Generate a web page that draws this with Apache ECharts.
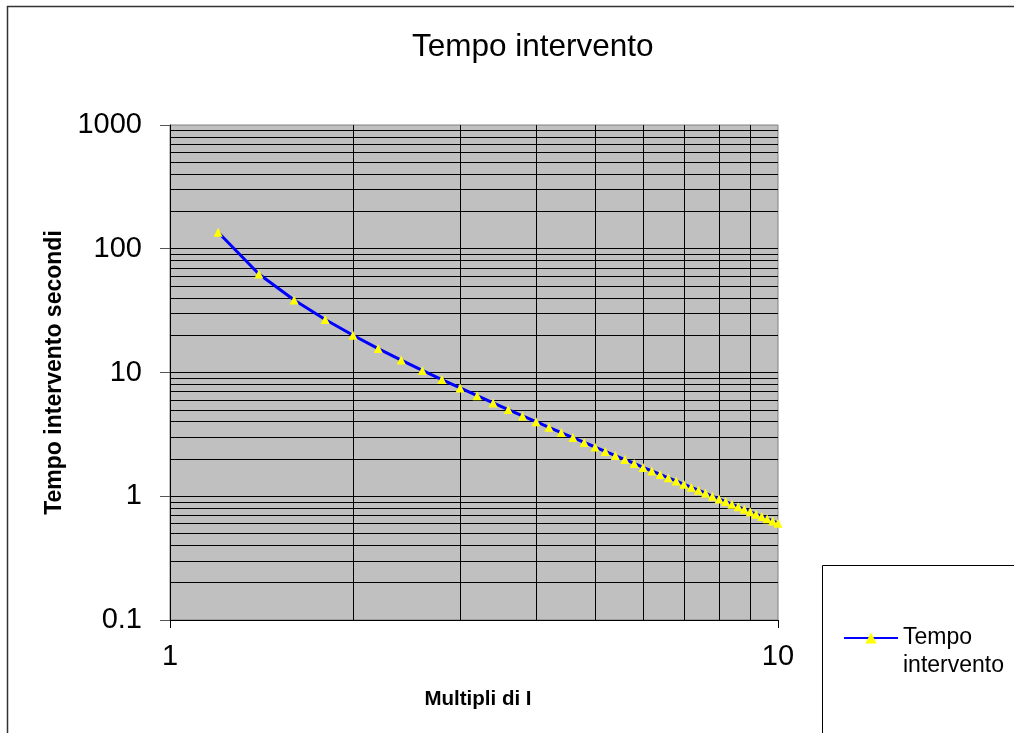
<!DOCTYPE html>
<html><head><meta charset="utf-8">
<script src="https://cdn.jsdelivr.net/npm/echarts@6/dist/echarts.min.js"></script>
<style>html,body{margin:0;padding:0;background:#fff}#c{width:1014px;height:733px}</style>
</head><body><div id="c"></div>
<script>
const titleText = 'Tempo intervento';
const seriesName = 'Tempo intervento';
const legendLabel = ' \nTempo\nintervento';
const xAxisName = 'Multipli di I';
const yAxisName = 'Tempo intervento secondi';

const multiples = [1.2,1.4,1.6,1.8,2.0,2.2,2.4,2.6,2.8,3.0,3.2,3.4,3.6,3.8,4.0,4.2,4.4,4.6,4.8,5.0,
  5.2,5.4,5.6,5.8,6.0,6.2,6.4,6.6,6.8,7.0,7.2,7.4,7.6,7.8,8.0,8.2,8.4,8.6,8.8,9.0,9.2,9.4,9.6,9.8,10.0];
const times = [136,62.5,38.5,26.8,20.0,15.6,12.6,10.4,8.77,7.50,6.49,5.68,5.02,4.46,4.00,3.61,3.27,2.98,2.72,2.50,
  2.30,2.13,1.98,1.84,1.71,1.60,1.50,1.41,1.33,1.25,1.18,1.12,1.06,1.00,0.952,0.906,0.863,0.822,0.785,0.750,
  0.717,0.687,0.658,0.631,0.606];

const xGridValues = [2,3,4,5,6,7,8,9];
const yGridValues = [0.2,0.3,0.4,0.5,0.6,0.7,0.8,0.9,1,2,3,4,5,6,7,8,9,10,20,30,40,50,60,70,80,90,100,
  200,300,400,500,600,700,800,900];

const FONT = 'Liberation Sans, Arial, sans-serif';
const chart = echarts.init(document.getElementById('c'), null, {renderer: 'canvas'});

const gridLines = xGridValues.map(v => ({xAxis: v})).concat(yGridValues.map(v => ({yAxis: v})));

chart.setOption({
  animation: false,
  backgroundColor: '#fff',
  title: {
    text: titleText, left: 412, top: 31, padding: 0,
    textStyle: {fontFamily: FONT, fontSize: 31.5, fontWeight: 'normal', color: '#000'}
  },
  legend: {
    left: 843, top: 596, padding: 0,
    itemWidth: 54, itemHeight: 14, itemGap: 5,
    data: [seriesName],
    formatter: () => legendLabel,
    textStyle: {fontFamily: FONT, fontSize: 23, color: '#000', lineHeight: 28}
  },
  graphic: [
    {type: 'rect', shape: {x: 7.5, y: 6.5, width: 1100, height: 800}, style: {fill: 'none', stroke: '#333', lineWidth: 1.5}, z: -10, silent: true},
    {type: 'rect', shape: {x: 822.5, y: 565.5, width: 400, height: 300}, style: {fill: '#fff', stroke: '#000', lineWidth: 1}, z: -5, silent: true}
  ],
  grid: {
    left: 170, right: 236, top: 125, bottom: 113,
    show: true, backgroundColor: '#C0C0C0', borderColor: '#808080', borderWidth: 1
  },
  xAxis: {
    type: 'log', logBase: 10, min: 1, max: 10,
    name: xAxisName, nameLocation: 'middle', nameGap: 69,
    nameTextStyle: {fontFamily: FONT, fontSize: 20.5, fontWeight: 'bold', color: '#000', padding: [0,0,0,8]},
    axisLine: {show: true, lineStyle: {color: '#000', width: 1}},
    axisTick: {show: true, length: 8, lineStyle: {color: '#000'}},
    axisLabel: {fontFamily: FONT, fontSize: 29, color: '#000', margin: 22},
    splitLine: {show: false}
  },
  yAxis: {
    type: 'log', logBase: 10, min: 0.1, max: 1000,
    name: yAxisName, nameLocation: 'middle', nameGap: 104, nameRotate: 90,
    nameTextStyle: {fontFamily: FONT, fontSize: 23, fontWeight: 'bold', color: '#000'},
    axisLine: {show: true, lineStyle: {color: '#000', width: 1}},
    axisTick: {show: true, length: 10, lineStyle: {color: '#555'}},
    axisLabel: {fontFamily: FONT, fontSize: 29, color: '#000', margin: 28,
      formatter: v => String(v)},
    splitLine: {show: false}
  },
  series: [
    {
      type: 'line', name: '__grid', data: [], z: 1, silent: true,
      markLine: {
        silent: true, symbol: ['none','none'], animation: false,
        label: {show: false},
        lineStyle: {color: '#000', width: 1, type: 'solid'},
        emphasis: {disabled: true},
        data: gridLines
      }
    },
    {
      type: 'line', name: seriesName, z: 5,
      data: multiples.map((m, i) => [m, times[i]]),
      lineStyle: {color: '#0000FF', width: 3},
      itemStyle: {color: '#FFFF00'},
      symbol: 'triangle', symbolSize: 9, showSymbol: true,
      color: '#0000FF'
    }
  ]
});
</script></body></html>
